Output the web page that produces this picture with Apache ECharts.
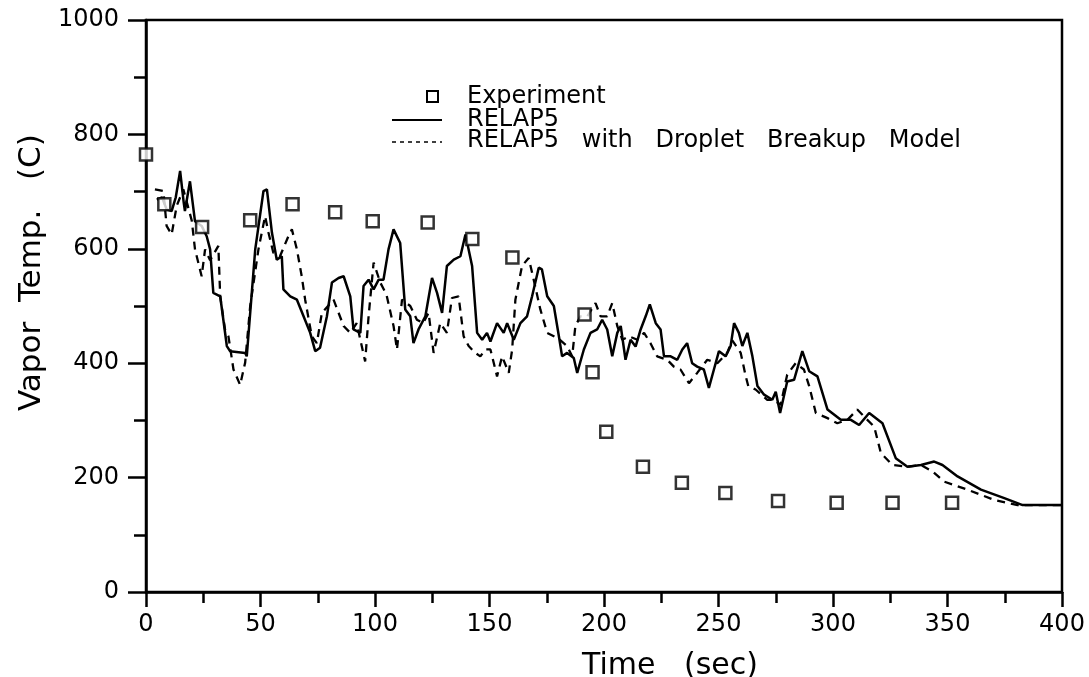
<!DOCTYPE html>
<html>
<head>
<meta charset="utf-8">
<script src="https://cdn.jsdelivr.net/npm/echarts@6/dist/echarts.min.js"></script>
<style>
  html, body { margin: 0; padding: 0; background: #fff; }
  #main { width: 1089px; height: 677px; }
</style>
</head>
<body>
<div id="main"></div>
<script>
// 实验数据 (sec, C)
let expTime = [0, 8, 24.5, 45.5, 64, 82.6, 99, 123, 142.5, 160, 191.5, 195, 201, 217, 234, 253, 276, 301.6, 326, 352];
let expTemp = [765, 678, 638, 650, 678, 664, 648, 646, 617, 585, 485, 384, 280, 219, 191, 173, 159, 156, 156, 156];

// RELAP5 (实线)
let relapTime = [4.7, 7, 9, 11.2, 13, 14.9, 16.5, 17, 19.2, 21.4, 24.3, 26.5, 28, 29.4, 32.4, 35.3, 36.7, 43.3, 44, 47.7,
  51.3, 52.8, 55, 57.1, 59.3, 60, 63, 65.9, 68.8, 71.7, 73.9, 76, 79, 81.2, 84.1, 86.3, 89.2, 90.6, 93.6, 95,
  97.2, 99.4, 101.6, 103.7, 105.9, 108.1, 111, 113.2, 115.4, 116.8, 119, 122, 124.9, 127.1, 129.3, 131.4, 134.4, 137.3, 139.5, 140.2,
  142.4, 144.6, 146.8, 148.9, 150.4, 153.3, 156.2, 157.7, 160.6, 163.5, 166.4, 168.6, 171.5, 172.9, 175.2, 178.1, 180.3, 181.7, 183.9, 186.8,
  188.3, 191.2, 194.1, 197, 199.2, 201.4, 203.6, 205.8, 207.3, 209.4, 211.6, 213.8, 216, 218.2, 220, 222.6, 224.7, 226.2, 229.1, 232,
  234.2, 236.3, 238.5, 240.7, 243.6, 245.8, 248, 250.2, 253.1, 255.3, 256.8, 258.9, 260.4, 262.6, 264.8, 267, 269.9, 273.5, 275, 276.9,
  280, 283, 286.6, 289.6, 293.2, 297.6, 303.4, 307.8, 311.4, 315.8, 321.6, 327.4, 332.5, 338.4, 344.2, 347.8, 354.4, 364.6, 374.8, 382.8, 399.6];
let relapTemp = [686, 690, 669, 666, 690, 736, 680, 666, 718, 648, 640, 622, 599, 523, 517, 430, 421, 418, 412, 599,
  701, 704, 628, 581, 587, 529, 517, 511, 482, 453, 421, 427, 482, 541, 549, 552, 517, 459, 453, 535,
  546, 529, 546, 546, 599, 634, 610, 494, 482, 435, 459, 482, 549, 523, 488, 570, 581, 587, 625, 628,
  570, 453, 441, 453, 438, 470, 453, 470, 441, 470, 482, 517, 567, 564, 517, 500, 447, 412, 418, 409,
  383, 424, 453, 459, 476, 459, 412, 453, 465, 406, 441, 429, 459, 482, 503, 470, 459, 412, 412, 406,
  424, 435, 400, 394, 389, 357, 389, 421, 412, 430, 470, 453, 430, 453, 412, 360, 345, 336, 350, 313,
  368, 371, 421, 386, 377, 319, 301, 301, 292, 313, 295, 234, 219, 222, 228, 222, 202, 179, 164, 152, 152];

// RELAP5 with Droplet Breakup Model (虚线)
let dropTime = [3.9, 7.6, 9, 11.2, 13.4, 16.3, 20, 21.4, 24.3, 25.8, 28, 31.6, 32.4, 34.5, 36, 38.2, 41.1, 43.3, 45.5, 49.1,
  52, 53.5, 55.6, 58.5, 62.2, 63.7, 65.9, 68, 69.5, 72.4, 74.6, 76.8, 81.9, 86.3, 89.2, 92, 95.7, 97.2, 99.4, 102.3,
  105, 108.1, 109.6, 111.8, 115.4, 118.3, 121, 123.4, 125.6, 128.5, 131.4, 133.6, 136.5, 138.7, 140.9, 143.8, 146, 148.2, 150.4, 153.3,
  155.5, 158.4, 159.9, 161.3, 164.2, 167.1, 169.3, 172.2, 175.2, 178.1, 181, 183.9, 186.1, 187.5, 189.7, 192.7, 196.3, 198.5, 201.4, 203.6,
  205.8, 208, 210.9, 214.6, 217.5, 220.3, 223.2, 227.6, 230.5, 233.4, 237.1, 240.7, 245.1, 249.5, 253.8, 256, 259.7, 261.9, 263, 266.2,
  271.3, 274.2, 277.1, 280, 283.7, 287.3, 289.6, 292.5, 297.6, 301.9, 306.3, 310.6, 314, 318, 320.9, 326, 332.5, 338.4, 343.4, 348.5,
  358.7, 370.4, 380.6, 399.6];
let dropTemp = [704, 701, 640, 625, 675, 704, 649, 599, 552, 599, 580, 605, 517, 459, 447, 389, 362, 401, 500, 599,
  657, 628, 593, 587, 622, 634, 599, 552, 511, 447, 435, 488, 511, 465, 453, 470, 403, 482, 576, 541,
  520, 465, 424, 511, 500, 476, 470, 488, 418, 470, 453, 514, 517, 447, 430, 418, 412, 424, 424, 377,
  412, 383, 424, 511, 570, 584, 546, 494, 453, 447, 440, 430, 412, 465, 482, 482, 505, 482, 482, 505,
  465, 441, 447, 441, 453, 435, 412, 406, 394, 389, 365, 383, 406, 400, 418, 440, 418, 377, 360, 354,
  336, 336, 327, 380, 400, 389, 360, 313, 304, 295, 301, 319, 305, 289, 243, 222, 219, 222, 211, 193,
  179, 161, 152, 152];

// 拼成 [x, y]
function pairs(xs, ys) {
    let out = [];
    for (let i = 0; i < xs.length; i++) {
        out.push([xs[i], ys[i]]);
    }
    return out;
}

let font = 'DejaVu Sans';

let myChart = echarts.init(document.getElementById('main'));

let option = {
    backgroundColor: '#fff',
    animation: false,
    grid: {
        left: 146,
        right: 27,
        top: 20,
        bottom: 85,
        show: true,
        borderColor: '#000',
        borderWidth: 2.5
    },
    xAxis: {
        type: 'value',
        min: 0,
        max: 400,
        interval: 50,
        axisLine: { lineStyle: { color: '#000', width: 2.5 } },
        axisTick: { length: 15, lineStyle: { color: '#000', width: 2.5 } },
        minorTick: { show: true, splitNumber: 2, length: 11, lineStyle: { color: '#000', width: 2.5 } },
        splitLine: { show: false },
        axisLabel: { margin: 21, color: '#000', fontSize: 24, fontFamily: font }
    },
    yAxis: {
        type: 'value',
        min: 0,
        max: 1000,
        interval: 200,
        axisLine: { show: true, lineStyle: { color: '#000', width: 2.5 } },
        axisTick: { show: true, length: 18, lineStyle: { color: '#000', width: 2.5 } },
        minorTick: { show: true, splitNumber: 2, length: 12, lineStyle: { color: '#000', width: 2.5 } },
        splitLine: { show: false },
        axisLabel: {
            margin: 27, color: '#000', fontSize: 24, fontFamily: font,
            formatter: function (v) { return String(v); }
        }
    },
    graphic: [
        // 坐标轴标题
        { type: 'text', x: 582, y: 666,
          style: { text: 'Time   (sec)', fontSize: 30, fontFamily: font, fill: '#000', verticalAlign: 'middle' } },
        { type: 'text', x: 32, y: 411, rotation: Math.PI / 2,
          style: { text: 'Vapor  Temp.   (C)', fontSize: 31, fontFamily: font, fill: '#000', verticalAlign: 'middle' } },
        // 图例
        { type: 'rect', shape: { x: 427, y: 91, width: 11, height: 11 }, style: { fill: '#fff', stroke: '#000', lineWidth: 2 } },
        { type: 'text', x: 467, y: 97, style: { text: 'Experiment', fontSize: 24, fontFamily: font, fill: '#000', verticalAlign: 'middle' } },
        { type: 'line', shape: { x1: 392, y1: 120, x2: 442, y2: 120 }, style: { stroke: '#000', lineWidth: 2 } },
        { type: 'text', x: 467, y: 120, style: { text: 'RELAP5', fontSize: 24, fontFamily: font, fill: '#000', verticalAlign: 'middle' } },
        { type: 'line', shape: { x1: 392, y1: 142, x2: 442, y2: 142 }, style: { stroke: '#000', lineWidth: 1.5, lineDash: [4, 4] } },
        { type: 'text', x: 467, y: 141, style: { text: 'RELAP5   with   Droplet   Breakup   Model', fontSize: 24, fontFamily: font, fill: '#000', verticalAlign: 'middle' } }
    ],
    series: [
        {
            name: 'RELAP5',
            type: 'line',
            data: pairs(relapTime, relapTemp),
            showSymbol: false,
            lineStyle: { color: '#000', width: 2.5 },
            z: 3
        },
        {
            name: 'RELAP5 with Droplet Breakup Model',
            type: 'line',
            data: pairs(dropTime, dropTemp),
            showSymbol: false,
            lineStyle: { color: '#000', width: 2.3, type: [8, 6] },
            z: 2
        },
        {
            name: 'Experiment',
            type: 'scatter',
            data: pairs(expTime, expTemp),
            symbol: 'rect',
            symbolSize: 12,
            itemStyle: { color: '#fff', borderColor: '#000', borderWidth: 2.5 },
            z: 4
        }
    ]
};

myChart.setOption(option);
</script>
</body>
</html>
